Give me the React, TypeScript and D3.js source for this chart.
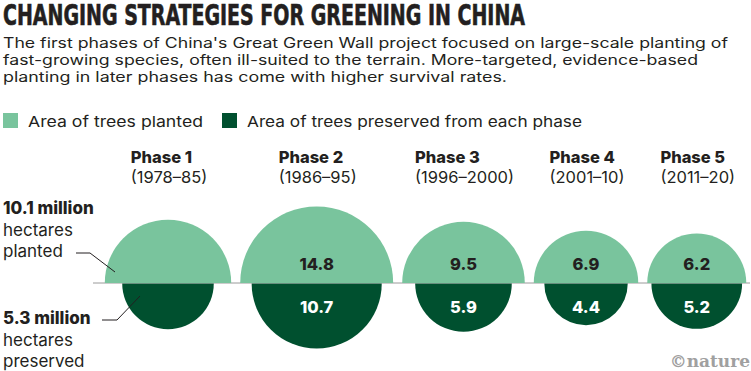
import React, { useEffect, useRef } from 'react';
import * as d3 from 'd3';

const phases = ['Phase 1', 'Phase 2', 'Phase 3', 'Phase 4', 'Phase 5'];
const periods = ['(1978–85)', '(1986–95)', '(1996–2000)', '(2001–10)', '(2011–20)'];
const planted = [10.1, 14.8, 9.5, 6.9, 6.2];
const preserved = [5.3, 10.7, 5.9, 4.4, 5.2];

const title = 'CHANGING STRATEGIES FOR GREENING IN CHINA';
const subtitle = [
  "The first phases of China's Great Green Wall project focused on large-scale planting of",
  'fast-growing species, often ill-suited to the terrain. More-targeted, evidence-based',
  'planting in later phases has come with higher survival rates.',
];
const legendLabels = ['Area of trees planted', 'Area of trees preserved from each phase'];

const LIGHT = '#79c49d';
const DARK = '#00502f';
const INK = '#231f20';
const FONT = 'Inter, Roboto, sans-serif';

export default function App() {
  const ref = useRef<SVGSVGElement>(null);
  const width = 751;
  const height = 371;

  useEffect(() => {
    if (!ref.current) return;
    const svg = d3.select(ref.current);
    svg.selectAll('*').remove();

    // header
    svg.append('text')
      .attr('x', 3).attr('y', 25)
      .attr('font-family', '"DejaVu Sans Condensed", "Liberation Sans Narrow", sans-serif')
      .attr('font-stretch', 'condensed')
      .attr('font-weight', 700)
      .attr('font-size', 28.5)
      .attr('fill', INK)
      .attr('stroke', INK).attr('stroke-width', 0.6)
      .attr('textLength', 522)
      .attr('lengthAdjust', 'spacingAndGlyphs')
      .text(title);

    const subWidths = [725, 695, 504];
    subtitle.forEach((line, i) => {
      svg.append('text')
        .attr('x', 3).attr('y', 48 + i * 17)
        .attr('font-family', FONT)
        .attr('font-size', 14)
        .attr('fill', INK)
        .attr('textLength', subWidths[i])
        .attr('lengthAdjust', 'spacingAndGlyphs')
        .text(line);
    });

    // legend
    const legX = [3, 222];
    const legW = [175, 335];
    legendLabels.forEach((lab, i) => {
      svg.append('rect')
        .attr('x', legX[i]).attr('y', 113)
        .attr('width', 15).attr('height', 15)
        .attr('fill', i === 0 ? LIGHT : DARK);
      svg.append('text')
        .attr('x', legX[i] + 25).attr('y', 127)
        .attr('font-family', FONT)
        .attr('font-size', 15)
        .attr('fill', INK)
        .attr('textLength', legW[i])
        .attr('lengthAdjust', 'spacingAndGlyphs')
        .text(lab);
    });

    const baseY = 283;
    const gap = 9;
    const r = d3.scaleSqrt().domain([0, 14.8]).range([0, 76.5]);

    // pack circles left to right
    const centers: number[] = [];
    let cursor = 168 - r(planted[0]);
    planted.forEach((v, i) => {
      const rad = Math.max(r(v), r(preserved[i]));
      centers.push(cursor + rad);
      cursor += 2 * rad + gap;
    });

    // baseline
    svg.append('line')
      .attr('x1', 93).attr('x2', 750)
      .attr('y1', baseY).attr('y2', baseY)
      .attr('stroke', '#9a9a9a').attr('stroke-width', 1);

    const arc = d3.arc<any>().innerRadius(0);

    const g = svg.append('g');
    planted.forEach((v, i) => {
      g.append('path')
        .attr('transform', `translate(${centers[i]},${baseY})`)
        .attr('fill', LIGHT)
        .attr('d', arc({ outerRadius: r(v), startAngle: -Math.PI / 2, endAngle: Math.PI / 2 }));
      g.append('path')
        .attr('transform', `translate(${centers[i]},${baseY + 0.5})`)
        .attr('fill', DARK)
        .attr('d', arc({ outerRadius: r(preserved[i]), startAngle: Math.PI / 2, endAngle: Math.PI * 1.5 }));

      if (i > 0) {
        g.append('text')
          .attr('x', centers[i]).attr('y', baseY - 13)
          .attr('text-anchor', 'middle')
          .attr('font-family', FONT).attr('font-weight', 800)
          .attr('font-size', 16.5).attr('fill', INK)
          .text(d3.format('.1f')(v));
        g.append('text')
          .attr('x', centers[i]).attr('y', baseY + 30)
          .attr('text-anchor', 'middle')
          .attr('font-family', FONT).attr('font-weight', 800)
          .attr('font-size', 16.5).attr('fill', '#fff')
          .text(d3.format('.1f')(preserved[i]));
      }

      // phase labels: left-aligned block centred on the circle
      const date = svg.append('text')
        .attr('x', centers[i] + 1).attr('y', 183)
        .attr('text-anchor', 'middle')
        .attr('font-family', FONT).attr('font-size', 16.5)
        .attr('fill', INK)
        .text(periods[i]);
      const w = (date.node() as SVGTextElement).getComputedTextLength();
      svg.append('text')
        .attr('x', centers[i] + 1 - w / 2).attr('y', 163)
        .attr('font-family', FONT).attr('font-weight', 800)
        .attr('font-size', 16.5).attr('fill', INK)
        .text(phases[i]);
    });

    // annotations for phase 1
    const note = (y: number, bold: string, lines: string[]) => {
      svg.append('text')
        .attr('x', 3).attr('y', y)
        .attr('font-family', FONT).attr('font-weight', 800)
        .attr('font-size', 17).attr('fill', INK)
        .text(bold);
      lines.forEach((l, k) => {
        svg.append('text')
          .attr('x', 3).attr('y', y + 21.5 * (k + 1))
          .attr('font-family', FONT).attr('font-size', 17)
          .attr('fill', INK)
          .text(l);
      });
    };
    note(214, '10.1 million', ['hectares', 'planted']);
    note(324, '5.3 million', ['hectares', 'preserved']);

    const leader = d3.line();
    svg.append('path')
      .attr('d', leader([[76, 253], [90, 253], [115, 272]]))
      .attr('fill', 'none').attr('stroke', INK).attr('stroke-width', 1);
    svg.append('path')
      .attr('d', leader([[102, 320], [117, 320], [140, 296]]))
      .attr('fill', 'none').attr('stroke', INK).attr('stroke-width', 1);

    // credit
    svg.append('text')
      .attr('x', 750).attr('y', 367)
      .attr('text-anchor', 'end')
      .attr('font-family', '"DejaVu Serif", serif')
      .attr('font-weight', 700)
      .attr('font-size', 17)
      .attr('fill', '#a0a0a0')
      .text('©nature');
  }, []);

  return (
    <svg
      ref={ref}
      width={width}
      height={height}
      style={{ position: 'absolute', left: 0, top: 0, background: '#fff' }}
    />
  );
}
